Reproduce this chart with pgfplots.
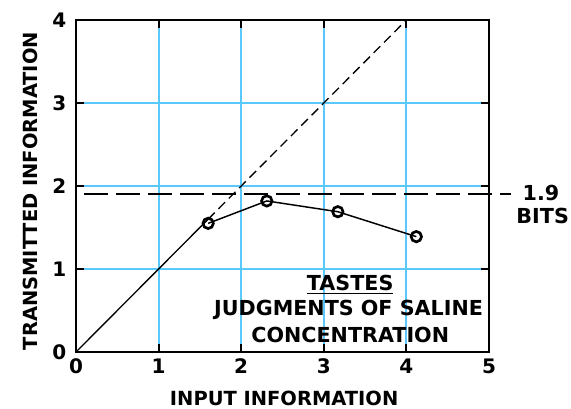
\documentclass[border=0pt]{standalone}
\usepackage{fontspec}
\setmainfont{DejaVu Sans}
\usepackage{pgfplots}
\pgfplotsset{compat=1.18}
\definecolor{gridcyan}{RGB}{90,200,250}
\newcommand{\lblfont}{\fontsize{14.6}{16}\selectfont\bfseries}
\newcommand{\notefont}{\fontsize{15.5}{17}\selectfont\bfseries}
\newcommand{\tickfont}{\fontsize{15}{17}\selectfont\bfseries}

\begin{document}
\begin{tikzpicture}
\begin{axis}[
  at={(0,0)}, anchor=south west,
  width=309.75pt, height=249pt, scale only axis,
  xmin=0, xmax=5, ymin=0, ymax=4,
  xtick={0,1,2,3,4,5}, ytick={0,1,2,3,4},
  grid=major,
  major grid style={gridcyan, line width=1.5pt},
  axis line style={line width=1.6pt},
  tick align=inside, major tick length=6pt,
  tick style={black, line width=1.6pt},
  /pgf/number format/assume math mode=true,
  ticklabel style={font=\tickfont},
  xticklabel style={anchor=center, yshift=-10.5pt},
  yticklabel style={anchor=center, xshift=-12.5pt},
  clip=false,
]
% diagonal reference line: solid up to the first point, dashed beyond
\addplot[black, line width=1pt] coordinates {(0,0) (1.6,1.6)};
\addplot[black, line width=1pt, dash pattern=on 7pt off 4pt] coordinates {(1.6,1.6) (4,4)};
% 1.9 bits asymptote
\addplot[black, line width=1.4pt, dash pattern=on 18pt off 6pt] coordinates {(0.1,1.9) (5.27,1.9)};
% data
\addplot[black, line width=1.1pt, mark=o, mark size=3.9pt,
  mark options={solid, line width=2pt, fill=white}]
  coordinates {(1.6,1.55) (2.31,1.82) (3.17,1.69) (4.12,1.39)};

\node[font=\notefont] at (axis cs:3.32,0.81) {\underline{TASTES}};
\node[font=\notefont] at (axis cs:3.3,0.51) {JUDGMENTS OF SALINE};
\node[font=\notefont] at (axis cs:3.32,0.2) {CONCENTRATION};
\node[font=\notefont] at (axis cs:5.63,1.92) {1.9};
\node[font=\notefont] at (axis cs:5.65,1.64) {BITS};

\node[font=\lblfont] at (axis description cs:0.504,0) [yshift=-34.5pt] {INPUT INFORMATION};
\node[xshift=-34.5pt, font=\lblfont, rotate=90] at (axis description cs:0,0.485) {TRANSMITTED INFORMATION};
\end{axis}
\pgfresetboundingbox
\path[use as bounding box] (-57pt,-42pt) rectangle (371.25pt,264pt);
\end{tikzpicture}
\end{document}
